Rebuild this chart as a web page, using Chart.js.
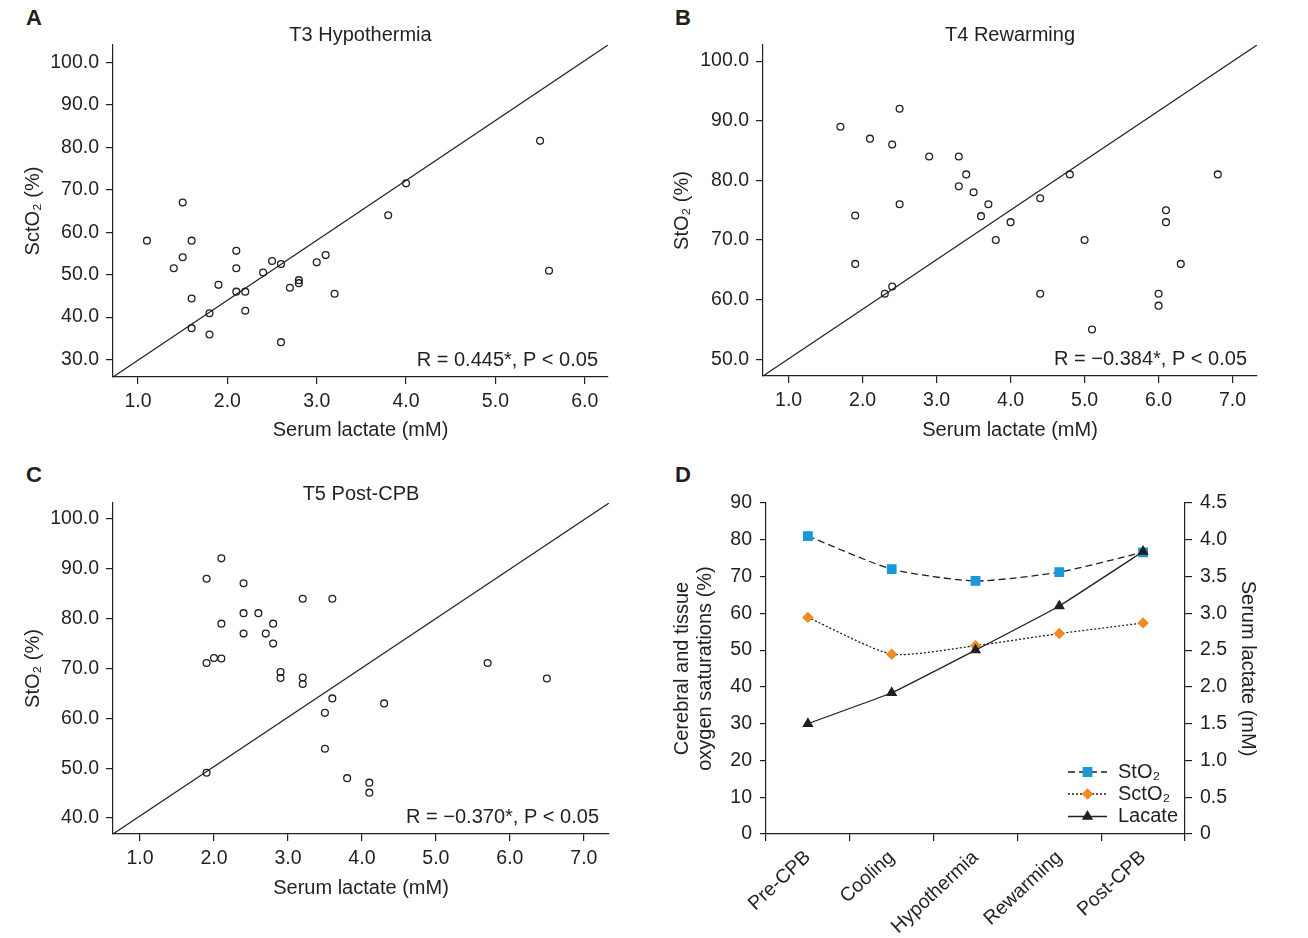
<!DOCTYPE html>
<html>
<head>
<meta charset="utf-8">
<script src="https://cdn.jsdelivr.net/npm/chart.js@4.4.1/dist/chart.umd.min.js"></script>
<style>
  body { margin: 0; background: #fff; width: 1308px; height: 938px; position: relative; overflow: hidden;
         font-family: 'Liberation Sans', Arial, sans-serif; color: #231f20; }
  canvas { position: absolute; }
  .tag { position: absolute; font-weight: bold; font-size: 22px; line-height: 1; }
</style>
</head>
<body>
<div class="tag" style="left:26px;top:7px">A</div>
<div class="tag" style="left:675px;top:7px">B</div>
<div class="tag" style="left:26px;top:464px">C</div>
<div class="tag" style="left:675px;top:464px">D</div>
<canvas id="pa" width="654" height="460" style="left:0;top:0"></canvas>
<canvas id="pb" width="654" height="460" style="left:654px;top:0"></canvas>
<canvas id="pc" width="654" height="478" style="left:0;top:460px"></canvas>
<canvas id="pd" width="654" height="478" style="left:654px;top:460px"></canvas>
<script>
// A - T3 hypothermia: serum lactate vs SctO2
const aLactate = [1.1, 1.5, 1.6, 1.5, 1.4, 1.6, 1.6, 1.8, 1.8, 1.9, 2.1, 2.1, 2.1, 2.2, 2.2,
                  2.4, 2.5, 2.6, 2.6, 2.7, 2.8, 2.8, 3.0, 3.1, 3.2, 3.8, 4.0, 5.5, 5.6];
const aSctO2 = [58.0, 67.0, 58.0, 54.1, 51.5, 44.4, 37.4, 40.9, 35.9, 47.6, 55.6, 51.5, 46.0, 46.0, 41.5,
                50.5, 53.2, 52.5, 34.1, 46.9, 48.7, 48.0, 52.9, 54.6, 45.5, 64.0, 71.5, 81.5, 50.9];

// B - T4 rewarming: serum lactate vs StO2
const bLactate = [1.7, 2.5, 2.1, 2.4, 2.9, 3.3, 3.4, 3.3, 3.5, 3.7, 2.5, 1.9, 3.6, 3.8, 4.0,
                  4.4, 1.9, 2.4, 2.3, 4.4, 4.8, 6.8, 6.1, 6.1, 5.0, 6.3, 6.0, 6.0, 5.1];
const bStO2 = [89, 92, 87, 86, 84, 84, 81, 79, 78, 76, 76, 74.1, 74, 70, 73,
               77, 66, 62.2, 61, 61, 81, 81, 75, 73, 70, 66, 61, 59, 55];

// C - T5 post-CPB: serum lactate vs StO2
const cLactate = [2.1, 1.9, 2.4, 3.2, 3.6, 2.4, 2.6, 2.1, 2.8, 2.4, 2.7, 2.8, 1.9, 2.0, 2.1,
                  2.9, 2.9, 3.2, 3.2, 3.6, 3.5, 4.3, 3.5, 1.9, 3.8, 4.1, 4.1, 5.7, 6.5];
const cStO2 = [92.1, 88, 87.1, 84, 84, 81.1, 81.1, 79, 79, 77, 77, 75, 71.1, 72.1, 72,
               69.3, 68.1, 68.2, 66.9, 64, 61.1, 63, 53.9, 49.1, 48, 47.1, 45.1, 71.1, 68];

// D - course over the stages
const stages = ['Pre-CPB', 'Cooling', 'Hypothermia', 'Rewarming', 'Post-CPB'];
const dStO2 = [81.0, 72.0, 68.8, 71.2, 76.6];
const dSctO2 = [58.9, 48.9, 51.2, 54.5, 57.4];
const dLactate = [1.50, 1.92, 2.50, 3.10, 3.84];

// tick labels
const ticksA_x = [1, 2, 3, 4, 5, 6];
const ticksA_y = [30, 40, 50, 60, 70, 80, 90, 100];
const ticksBC_x = [1, 2, 3, 4, 5, 6, 7];
const ticksB_y = [50, 60, 70, 80, 90, 100];
const ticksC_y = [40, 50, 60, 70, 80, 90, 100];
const ticksSat = [0, 10, 20, 30, 40, 50, 60, 70, 80, 90];
const ticksLac = [0, 0.5, 1, 1.5, 2, 2.5, 3, 3.5, 4, 4.5];

const statA = 'R = 0.445*, P < 0.05';
const statB = 'R = \u22120.384*, P < 0.05';
const statC = 'R = \u22120.370*, P < 0.05';

const ink = '#231f20';
const fam = "'Liberation Sans', Arial, sans-serif";
const blue = '#1b98d6';
const orange = '#ef8a26';

// stat line in the lower right corner and title centred over the plot area
function textPlugin(title, titleY, stat) {
  return {
    id: 'texts',
    afterDatasetsDraw(chart) {
      const { ctx, chartArea: a } = chart;
      ctx.save();
      ctx.font = '20px ' + fam;
      ctx.fillStyle = ink;
      ctx.textBaseline = 'middle';
      ctx.textAlign = 'right';
      ctx.fillText(stat, a.right - 10, a.bottom - 17);
      ctx.textAlign = 'center';
      ctx.fillText(title, (a.left + a.right) / 2, titleY);
      ctx.restore();
    }
  };
}

function scatter(id, xs, ys, c) {
  const cv = document.getElementById(id);
  const W = cv.width, H = cv.height, p = c.plot;
  const pts = xs.map((x, i) => ({ x: x, y: ys[i] }));
  // diagonal reference line from corner to corner of the plot
  const diag = [{ x: c.xr[0], y: c.yr[0] }, { x: c.xr[1], y: c.yr[1] }];
  new Chart(cv, {
    type: 'scatter',
    data: {
      datasets: [
        { data: pts, pointStyle: 'circle', pointRadius: 3.4, pointBorderWidth: 1.3,
          pointBorderColor: ink, pointBackgroundColor: 'rgba(0,0,0,0)' },
        { data: diag, showLine: true, borderColor: ink, borderWidth: 1.2, pointRadius: 0 }
      ]
    },
    options: {
      responsive: false, animation: false, events: [],
      layout: { padding: { left: 0, top: p.top, right: W - p.right, bottom: 0 } },
      plugins: { legend: { display: false }, tooltip: { enabled: false } },
      scales: {
        x: {
          type: 'linear', min: c.xr[0], max: c.xr[1],
          afterBuildTicks: s => { s.ticks = c.xTicks.map(v => ({ value: v })); },
          afterFit: s => { s.height = H - p.bottom; },
          ticks: { color: ink, font: { family: fam, size: 19.5 }, padding: 6,
                   callback: v => v.toFixed(1) },
          grid: { drawOnChartArea: false, tickLength: 7, color: ink, lineWidth: 1.2 },
          border: { color: ink, width: 1.2 },
          title: { display: true, text: 'Serum lactate (mM)', color: ink,
                   font: { family: fam, size: 20, lineHeight: 1.2 },
                   padding: { top: 0, bottom: c.xTitleB } }
        },
        y: {
          min: c.yr[0], max: c.yr[1],
          afterBuildTicks: s => { s.ticks = c.yTicks.map(v => ({ value: v })); },
          afterFit: s => { s.width = p.left; },
          ticks: { color: ink, font: { family: fam, size: 19.5 }, padding: 7,
                   callback: v => v.toFixed(1) },
          grid: { drawOnChartArea: false, tickLength: 7, color: ink, lineWidth: 1.2 },
          border: { color: ink, width: 1.2 },
          title: { display: true, text: c.yTitle, color: ink,
                   font: { family: fam, size: 20, lineHeight: 1.2 },
                   padding: { top: c.yTitleT, bottom: 0 } }
        }
      }
    },
    plugins: [textPlugin(c.title, c.titleY, c.stat)]
  });
}

scatter('pa', aLactate, aSctO2, {
  plot: { left: 113, top: 45, right: 608, bottom: 377 },
  xr: [0.72, 6.26], yr: [25.9, 104.07], xTicks: ticksA_x, yTicks: ticksA_y,
  title: 'T3 Hypothermia', titleY: 35, yTitle: 'SctO\u2082 (%)', yTitleT: 21, xTitleB: 18, stat: statA
});
scatter('pb', bLactate, bStO2, {
  plot: { left: 109, top: 45, right: 603, bottom: 376 },
  xr: [0.654, 7.33], yr: [47.2, 102.7], xTicks: ticksBC_x, yTicks: ticksB_y,
  title: 'T4 Rewarming', titleY: 35, yTitle: 'StO\u2082 (%)', yTitleT: 16, xTitleB: 18, stat: statB
});
scatter('pc', cLactate, cStO2, {
  plot: { left: 113, top: 43, right: 609, bottom: 374 },
  xr: [0.635, 7.34], yr: [36.8, 103.2], xTicks: ticksBC_x, yTicks: ticksC_y,
  title: 'T5 Post-CPB', titleY: 34, yTitle: 'StO\u2082 (%)', yTitleT: 21, xTitleB: 38, stat: statC
});

// legend drawn inside the plot, line + marker + label
const lineLegend = {
  id: 'lineLegend',
  afterDatasetsDraw(chart) {
    const { ctx, chartArea: a } = chart;
    const rows = [62, 40, 17.5];
    ctx.save();
    chart.data.datasets.forEach((ds, i) => {
      const y = a.bottom - rows[i];
      const x0 = a.right - 117, x1 = a.right - 78;
      ctx.strokeStyle = ds.borderColor;
      ctx.lineWidth = ds.borderWidth;
      ctx.setLineDash(ds.borderDash || []);
      ctx.beginPath(); ctx.moveTo(x0, y); ctx.lineTo(x1, y); ctx.stroke();
      ctx.setLineDash([]);
      ctx.fillStyle = ds.pointBackgroundColor;
      ctx.strokeStyle = ds.pointBorderColor;
      Chart.helpers.drawPoint(ctx, { pointStyle: ds.pointStyle, radius: ds.pointRadius, rotation: 0, borderWidth: 1 },
                              (x0 + x1) / 2, y);
      ctx.fillStyle = ink;
      ctx.font = '20px ' + fam;
      ctx.textAlign = 'left';
      ctx.textBaseline = 'middle';
      ctx.fillText(ds.label, a.right - 67, y);
    });
    ctx.restore();
  }
};

(function () {
  const cv = document.getElementById('pd');
  const W = cv.width, H = cv.height;
  const plot = { left: 112, top: 43, right: 531, bottom: 374 };
  new Chart(cv, {
    type: 'line',
    data: {
      labels: stages,
      datasets: [
        { label: 'StO\u2082', data: dStO2, yAxisID: 'y', order: 2,
          borderColor: ink, borderWidth: 1.3, borderDash: [7, 4], tension: 0.2,
          pointStyle: 'rect', pointRadius: 6, pointBackgroundColor: blue, pointBorderColor: blue },
        { label: 'SctO\u2082', data: dSctO2, yAxisID: 'y', order: 1,
          borderColor: ink, borderWidth: 1.3, borderDash: [2, 2], tension: 0.2,
          pointStyle: 'rectRot', pointRadius: 4.8, pointBackgroundColor: orange, pointBorderColor: orange },
        { label: 'Lacate', data: dLactate, yAxisID: 'y1', order: 0,
          borderColor: ink, borderWidth: 1.3, tension: 0.1,
          pointStyle: 'triangle', pointRadius: 5.2, pointBackgroundColor: ink, pointBorderColor: ink }
      ]
    },
    options: {
      responsive: false, animation: false, events: [],
      layout: { padding: { left: 0, top: plot.top, right: 0, bottom: 0 } },
      plugins: { legend: { display: false }, tooltip: { enabled: false } },
      scales: {
        x: {
          offset: true,
          afterFit: s => { s.height = H - plot.bottom; },
          ticks: { color: ink, font: { family: fam, size: 19.5 }, minRotation: 43, maxRotation: 43, padding: 5 },
          grid: { offset: true, drawOnChartArea: false, tickLength: 7, color: ink, lineWidth: 1.2 },
          border: { color: ink, width: 1.2 }
        },
        y: {
          position: 'left', min: 0, max: 90,
          afterBuildTicks: s => { s.ticks = ticksSat.map(v => ({ value: v })); },
          afterFit: s => { s.width = plot.left; },
          ticks: { color: ink, font: { family: fam, size: 19.5 }, padding: 8 },
          grid: { drawOnChartArea: false, tickLength: 6, color: ink, lineWidth: 1.2 },
          border: { color: ink, width: 1.2 },
          title: { display: true, text: ['Cerebral and tissue', 'oxygen saturations (%)'], color: ink,
                   font: { family: fam, size: 20, lineHeight: 1.15 }, padding: { top: 16.5, bottom: 0 } }
        },
        y1: {
          position: 'right', min: 0, max: 4.5,
          afterBuildTicks: s => { s.ticks = ticksLac.map(v => ({ value: v })); },
          afterFit: s => { s.width = W - plot.right; },
          ticks: { color: ink, font: { family: fam, size: 19.5 }, padding: 8,
                   callback: v => v === 0 ? '0' : v.toFixed(1) },
          grid: { drawOnChartArea: false, tickLength: 7, color: ink, lineWidth: 1.2 },
          border: { color: ink, width: 1.2 },
          title: { display: true, text: 'Serum lactate (mM)', color: ink,
                   font: { family: fam, size: 20, lineHeight: 1.2 }, padding: { top: 48, bottom: 0 } }
        }
      }
    },
    plugins: [lineLegend]
  });
})();
</script>
</body>
</html>
